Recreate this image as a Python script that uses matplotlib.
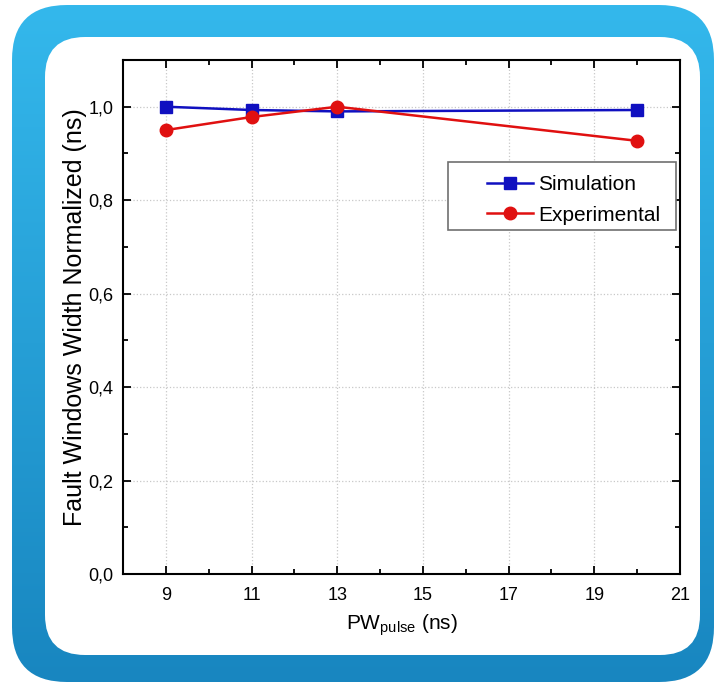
import numpy as np
import matplotlib
matplotlib.use('Agg')
import matplotlib.pyplot as plt
from matplotlib.patches import FancyBboxPatch, Rectangle
from matplotlib.ticker import MultipleLocator, FuncFormatter

plt.rcParams['font.family'] = ['Liberation Sans', 'DejaVu Sans']

# data
pw_sim = [9, 11, 13, 20]
sim = [1.0, 0.993, 0.99, 0.993]
pw_exp = [9, 11, 13, 20]
exp = [0.95, 0.978, 1.0, 0.927]

W, H = 716, 682
fig = plt.figure(figsize=(W / 100, H / 100), dpi=100)

# background frame (pixel coords)
bg = fig.add_axes([0, 0, 1, 1])
bg.set_xlim(0, W)
bg.set_ylim(H, 0)
bg.axis('off')

grad = np.linspace(0, 1, 256).reshape(-1, 1)
c_top = np.array([0x34, 0xb8, 0xec]) / 255
c_bot = np.array([0x18, 0x86, 0xc0]) / 255
img = c_top + (c_bot - c_top) * grad[..., None]
img = np.repeat(img, 2, axis=1)
outer = FancyBboxPatch((12 + 55, 5 + 55), 702 - 110, 677 - 110,
                       boxstyle='round,pad=55', transform=bg.transData,
                       facecolor='none', edgecolor='none')
bg.add_patch(outer)
im = bg.imshow(img, extent=[12, 714, 682, 5], aspect='auto', zorder=1)
im.set_clip_path(outer)

inner = FancyBboxPatch((45 + 40, 37 + 40), 655 - 80, 618 - 80,
                       boxstyle='round,pad=40', transform=bg.transData,
                       facecolor='white', edgecolor='none', zorder=2)
bg.add_patch(inner)

ax = fig.add_axes([123 / W, 1 - 574 / H, (680 - 123) / W, (574 - 60) / H])
ax.set_facecolor('white')

ax.plot(pw_sim, sim, color='#1010c0', marker='s', markersize=8, lw=1.8,
        label='Simulation', zorder=3)
ax.plot(pw_exp, exp, color='#e01010', marker='o', markersize=9, lw=1.8,
        label='Experimental', zorder=4)

ax.set_xlim(8, 21)
ax.set_ylim(0, 1.1)
ax.xaxis.set_minor_locator(MultipleLocator(1))
ax.set_xticks([9, 11, 13, 15, 17, 19, 21])
ax.yaxis.set_major_locator(MultipleLocator(0.2))
ax.yaxis.set_minor_locator(MultipleLocator(0.1))
ax.yaxis.set_major_formatter(FuncFormatter(lambda v, p: f'{v:.1f}'.replace('.', ',')))

ax.grid(True, which='major', linestyle=':', color='#c8c8c8', lw=0.9)
ax.tick_params(which='both', direction='in', top=True, right=True, labelsize=13,
               colors='black')
ax.tick_params(which='major', length=6, width=1.3)
ax.tick_params(which='minor', length=3.5, width=1.3)
ax.tick_params(axis='x', pad=9)
ax.tick_params(axis='y', pad=7)
for s in ax.spines.values():
    s.set_linewidth(1.5)

ax.set_xlabel('PW$_{\\mathregular{pulse}}$ (ns)', fontsize=15, labelpad=6)
ax.set_ylabel('Fault Windows Width Normalized (ns)', fontsize=18, labelpad=1)

# legend box drawn separately (Origin style: wide left margin)
ax.add_patch(Rectangle((0.5835, 0.669), 0.4093, 0.1326, transform=ax.transAxes,
                       facecolor='white', edgecolor='#707070', lw=1.2, zorder=5))
leg = ax.legend(loc='center left', bbox_to_anchor=(0.6535, 0.7276), fontsize=15,
                frameon=False, handlelength=2.2, borderpad=0, labelspacing=0.55,
                handletextpad=0.25, borderaxespad=0)
leg.set_zorder(6)

fig.savefig('out.png', dpi=100)
